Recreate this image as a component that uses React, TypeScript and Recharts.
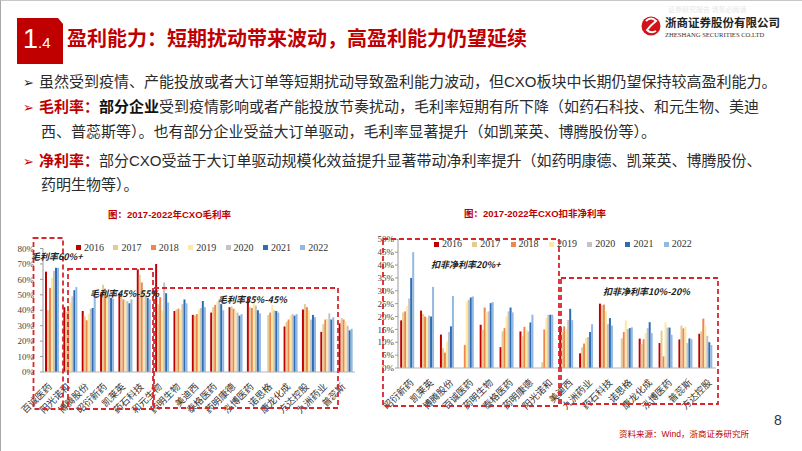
import React from 'react';
import { BarChart, Bar, XAxis, YAxis, Legend } from 'recharts';

const years = ['2016', '2017', '2018', '2019', '2020', '2021', '2022'];
const yearColors = ['#C00000', '#E3CB95', '#EF8650', '#FFE8A0', '#C3C3C3', '#2E6DB4', '#93B8E2'];

// ---- Gross margin (毛利率) ----
const grossCategories = ['百诚医药', '阳光诺和', '博腾股份', '昭衍新药', '凯莱英', '药石科技', '和元生物', '药明生物', '美迪西', '泰格医药', '药明康德', '泓博医药', '诺思格', '康龙化成', '方达控股', '九洲药业', '普蕊斯'];
const gross2016 = [65, 42, 39.5, 51, 51, 66.5, 70, 39.5, 37, 38.5, 42, 48.5, null, 29.5, 40.5, 26, 31.5];
const gross2017 = [40, 39, 36, 56.5, 50, 63, 44, 40.5, 36.5, 42, 42.5, 42, 37, 32.5, 44, 31, 35];
const gross2018 = [54.5, 41, 33.5, 54, 47, 58, 48.5, 41, 37.5, 43.5, 41, 41.5, 38.5, 34, 42, 34, 34];
const gross2019 = [61, 45, 37.5, 53, 46.5, 53, 40, 40.5, 40.5, 45.5, 40, 45.5, 43.5, 36.5, 40, 34.5, 33];
const gross2020 = [65.5, 49, 41, 50, 46, 50, 58, 44, 41.5, 47, 38.5, 43, 40, 37.5, 34, 38, 30];
const gross2021 = [67.5, 53, 41.5, 48, 44.5, 48, 51, 47, 46, 44, 36.5, 40, 39.5, 36.5, 37, 34, 27];
const gross2022 = [67.5, 55, 48, 47.5, 47, 47, 45, 44.5, 42, 40, 37.5, 38, 38.5, 37.5, 35.5, 35.5, 28];
const grossTicks = [0, 10, 20, 30, 40, 50, 60, 70, 80];

// ---- Net margin excl. non-recurring (扣非净利率) ----
const netCategories = ['昭衍新药', '凯莱英', '博腾股份', '百诚医药', '药明生物', '泰格医药', '药明康德', '阳光诺和', '美迪西', '九洲药业', '药石科技', '诺思格', '康龙化成', '泓博医药', '普蕊斯', '方达控股'];
const net2016 = [18.5, 22.3, 13, null, 16.8, 8.1, 14.2, null, 16.3, 5.7, 25, null, 11.4, 9.7, 11.1, 13.3];
const net2017 = [21.6, 21, 7.7, null, 14.8, 14.2, 12.3, 2.3, 14, 8, 24.4, 11.5, 9.3, 14.5, 16.5, 14.2];
const net2018 = [22, 20, 6, 9, 23.5, 15.5, 16, 15, 16.2, 9.5, 24.6, 14, 11.2, 4.5, 15.4, 19.2];
const net2019 = [24, 19.6, 10.3, 25.8, 21.6, 20, 14.9, 19.4, 15, 11.6, 22, 18.5, 13.6, 17.7, 16, 16.5];
const net2020 = [27, 20.4, 14, 26.5, 22, 22, 14.2, 20.7, 18.7, 12, 17, 15.2, 15.5, 15.7, 9.7, 12.5];
const net2021 = [35, 20, 16.2, 27.4, 25.2, 23.5, 17.7, 20.7, 23, 14, 19.4, 15.5, 17.8, 15.7, 11.5, 10];
const net2022 = [45, 31.5, 28, 27.8, 25.6, 21.6, 20.7, 20.7, 18.6, 17, 16.5, 15.8, 13.6, 12.9, 11.2, 8.9];
const netTicks = [0, 5, 10, 15, 20, 25, 30, 35, 40, 45, 50];

const grossSeries = [gross2016, gross2017, gross2018, gross2019, gross2020, gross2021, gross2022];
const netSeries = [net2016, net2017, net2018, net2019, net2020, net2021, net2022];

const buildRows = (cats: string[], series: (number | null)[][]) =>
  cats.map((name, i) => {
    const row: Record<string, any> = { name };
    years.forEach((y, k) => {
      row[y] = series[k][i];
    });
    return row;
  });

const grossData = buildRows(grossCategories, grossSeries);
const netData = buildRows(netCategories, netSeries);

const CJK = '"Noto Sans CJK SC", "Noto Sans", sans-serif';
const SERIF = '"Liberation Serif", "DejaVu Serif", "Noto Sans CJK SC", serif';
const SANS = '"Liberation Sans", Arial, sans-serif';
const RED = '#C00000';

const AngledTick = (props: any) => {
  const { x, y, payload, shift } = props;
  return (
    <g transform={`translate(${x + (shift || 0)},${y + 3})`}>
      <text
        textAnchor="end"
        transform="rotate(-45)"
        fontSize={9.5}
        fill="#333"
        fontFamily={CJK}
        dy={6}
      >
        {payload.value}
      </text>
    </g>
  );
};

const makeLegend = (pitch: number) => (props: any) => (
  <div style={{ display: 'flex', whiteSpace: 'nowrap' }}>
    {(props.payload || []).map((e: any) => (
      <div
        key={e.value}
        style={{
          width: pitch,
          display: 'flex',
          alignItems: 'center',
          fontFamily: SERIF,
          fontSize: 10,
          lineHeight: '12px',
          color: '#333',
        }}
      >
        <span style={{ display: 'inline-block', width: 5, height: 5, background: e.color, marginRight: 3 }} />
        {e.value}
      </div>
    ))}
  </div>
);

const ChartBlock = (props: {
  data: any[];
  width: number;
  height: number;
  margin: any;
  yWidth: number;
  yTickMargin: number;
  ticks: number[];
  xHeight: number;
  legendLeft: number;
  legendTop: number;
  legendPitch: number;
  tickShift: number;
}) => {
  const { data, width, height, margin, yWidth, yTickMargin, ticks, xHeight, legendLeft, legendTop, legendPitch, tickShift } = props;
  return (
    <BarChart
      width={width}
      height={height}
      data={data}
      margin={margin}
      barCategoryGap="11%"
      barGap={0}
    >
      <XAxis
        dataKey="name"
        interval={0}
        height={xHeight}
        tickLine={false}
        axisLine={{ stroke: '#b5b5b5' }}
        tick={(p: any) => <AngledTick {...p} shift={tickShift} />}
      />
      <YAxis
        width={yWidth}
        domain={[ticks[0], ticks[ticks.length - 1]]}
        ticks={ticks}
        interval={0}
        tickFormatter={(v: number) => `${v}%`}
        tickSize={3}
        tickMargin={yTickMargin}
        axisLine={{ stroke: '#9a9a9a' }}
        tickLine={{ stroke: '#9a9a9a' }}
        tick={{ fontSize: 9, fill: '#444', fontFamily: SERIF }}
      />
      <Legend
        layout="horizontal"
        verticalAlign="middle"
        align="center"
        content={makeLegend(legendPitch)}
        wrapperStyle={{ top: legendTop, left: legendLeft, width: 'auto' }}
      />
      {years.map((y, k) => (
        <Bar key={y} dataKey={y} fill={yearColors[k]} isAnimationActive={false} />
      ))}
    </BarChart>
  );
};

const boxes = [
  { x: 32.5, y: 237, w: 29.5, h: 171 },
  { x: 67, y: 268, w: 85, h: 140 },
  { x: 153, y: 287, w: 184, h: 120 },
  { x: 382, y: 238, w: 176, h: 167 },
  { x: 560, y: 277, w: 157, h: 126 },
];

const notes = [
  { x: 30, y: 259, t: '毛利率60%+' },
  { x: 89, y: 296, t: '毛利率45%-55%' },
  { x: 217, y: 302, t: '毛利率35%-45%' },
  { x: 430, y: 267, t: '扣非净利率20%+' },
  { x: 602, y: 294, t: '扣非净利率10%-20%' },
];

const lineStyle: React.CSSProperties = {
  position: 'absolute',
  left: 22,
  fontFamily: CJK,
  fontSize: 15,
  color: '#2b2b2b',
  whiteSpace: 'nowrap',
  lineHeight: '20px',
};

const bullet = (color: string) => (
  <span style={{ fontSize: 13, marginRight: 5, color, fontFamily: '"DejaVu Sans", sans-serif' }}>➢</span>
);

export default function App() {
  return (
    <div
      style={{
        position: 'fixed',
        left: 0,
        top: 0,
        width: 802,
        height: 451,
        background: '#fff',
        overflow: 'hidden',
        boxSizing: 'border-box',
        borderLeft: '1px solid #a8a8a8',
        borderTop: '1px solid #c8c8c8',
      }}
    >
      {/* title block */}
      <svg style={{ position: 'absolute', left: 0, top: 0 }} width={802} height={70}>
        <polygon points="16,17 57,17 62,23 62,63 16,63" fill={RED} />
        <text x={22} y={47} fill="#fff" fontFamily={SANS} fontSize={27}>1</text>
        <text x={37} y={47} fill="#fff" fontFamily={SANS} fontSize={15}>.4</text>
        <circle cx={650} cy={25} r={9.5} fill="#D0121B" />
        <path d="M645 20 Q650 15 655 20 Q650 24 646 29 Q650 33 655 30" stroke="#fff" strokeWidth={2} fill="none" />
      </svg>
      <div
        style={{
          position: 'absolute',
          left: 66,
          top: 24,
          fontFamily: CJK,
          fontSize: 20,
          fontWeight: 700,
          color: RED,
          whiteSpace: 'nowrap',
          lineHeight: '26px',
        }}
      >
        盈利能力：短期扰动带来波动，高盈利能力仍望延续
      </div>
      <div style={{ position: 'absolute', left: 667, top: 3, fontFamily: CJK, fontSize: 7, color: '#e6e6e6', whiteSpace: 'nowrap' }}>
        证券研究报告 请务必阅读
      </div>
      <div style={{ position: 'absolute', left: 664, top: 14, fontFamily: CJK, fontSize: 11.5, fontWeight: 700, color: '#222', whiteSpace: 'nowrap', lineHeight: '14px' }}>
        浙商证券股份有限公司
      </div>
      <div style={{ position: 'absolute', left: 664, top: 29, fontFamily: SERIF, fontSize: 6.6, color: '#333', whiteSpace: 'nowrap', lineHeight: '9px' }}>
        ZHESHANG SECURITIES CO.LTD
      </div>

      {/* bullet text */}
      <div style={{ ...lineStyle, top: 70 }}>
        {bullet('#222')}
        虽然受到疫情、产能投放或者大订单等短期扰动导致盈利能力波动，但<span style={{ fontFamily: SANS }}>CXO</span>板块中长期仍望保持较高盈利能力。
      </div>
      <div style={{ ...lineStyle, top: 95 }}>
        {bullet(RED)}
        <span style={{ color: RED, fontWeight: 700 }}>毛利率：</span>
        <span style={{ fontWeight: 700, color: '#111' }}>部分企业</span>受到疫情影响或者产能投放节奏扰动，毛利率短期有所下降（如药石科技、和元生物、美迪
      </div>
      <div style={{ ...lineStyle, top: 120, left: 40 }}>
        西、普蕊斯等）。也有部分企业受益大订单驱动，毛利率显著提升（如凯莱英、博腾股份等）。
      </div>
      <div style={{ ...lineStyle, top: 149 }}>
        {bullet(RED)}
        <span style={{ color: RED, fontWeight: 700 }}>净利率：</span>
        部分<span style={{ fontFamily: SANS }}>CXO</span>受益于大订单驱动规模化效益提升显著带动净利率提升（如药明康德、凯莱英、博腾股份、
      </div>
      <div style={{ ...lineStyle, top: 173, left: 40 }}>药明生物等）。</div>

      {/* chart titles */}
      <div style={{ position: 'absolute', left: 107, top: 206, fontFamily: CJK, fontSize: 9.5, fontWeight: 700, color: RED, whiteSpace: 'nowrap', lineHeight: '14px' }}>
        图：<span style={{ fontFamily: SANS }}>2017-2022</span>年<span style={{ fontFamily: SANS }}>CXO</span>毛利率
      </div>
      <div style={{ position: 'absolute', left: 463, top: 205, fontFamily: CJK, fontSize: 9.5, fontWeight: 700, color: RED, whiteSpace: 'nowrap', lineHeight: '14px' }}>
        图：<span style={{ fontFamily: SANS }}>2017-2022</span>年<span style={{ fontFamily: SANS }}>CXO</span>扣非净利率
      </div>

      {/* left chart */}
      <div style={{ position: 'absolute', left: 0, top: 200 }}>
        <ChartBlock
          data={grossData}
          width={370}
          height={225}
          margin={{ top: 47.5, right: 16, bottom: 8, left: 12 }}
          yWidth={30}
          yTickMargin={6}
          ticks={grossTicks}
          xHeight={46}
          legendLeft={75}
          legendTop={40.5}
          legendPitch={37.4}
          tickShift={-4}
        />
      </div>

      {/* right chart */}
      <div style={{ position: 'absolute', left: 370, top: 200 }}>
        <ChartBlock
          data={netData}
          width={430}
          height={225}
          margin={{ top: 38.3, right: 85, bottom: 8, left: 2 }}
          yWidth={25}
          yTickMargin={1}
          ticks={netTicks}
          xHeight={50}
          legendLeft={63}
          legendTop={37}
          legendPitch={38.3}
          tickShift={2}
        />
      </div>

      {/* annotation overlay */}
      <svg style={{ position: 'absolute', left: 0, top: 0, pointerEvents: 'none' }} width={802} height={451}>
        {boxes.map((b, i) => (
          <rect key={i} x={b.x} y={b.y} width={b.w} height={b.h} fill="none" stroke="#D7262E" strokeWidth={1.8} strokeDasharray="5 3" />
        ))}
        {notes.map((n, i) => (
          <text key={i} x={n.x} y={n.y} fontFamily={CJK} fontSize={9} fontWeight={700} fontStyle="italic" fill="#222">
            {n.t}
          </text>
        ))}
      </svg>

      <div style={{ position: 'absolute', left: 773, top: 411, fontFamily: SANS, fontSize: 14, color: '#333' }}>8</div>
      <div style={{ position: 'absolute', left: 618, top: 426, fontFamily: CJK, fontSize: 8.5, color: RED, whiteSpace: 'nowrap', lineHeight: '12px' }}>
        资料来源：<span style={{ fontFamily: SANS }}>Wind</span>，浙商证券研究所
      </div>
    </div>
  );
}
